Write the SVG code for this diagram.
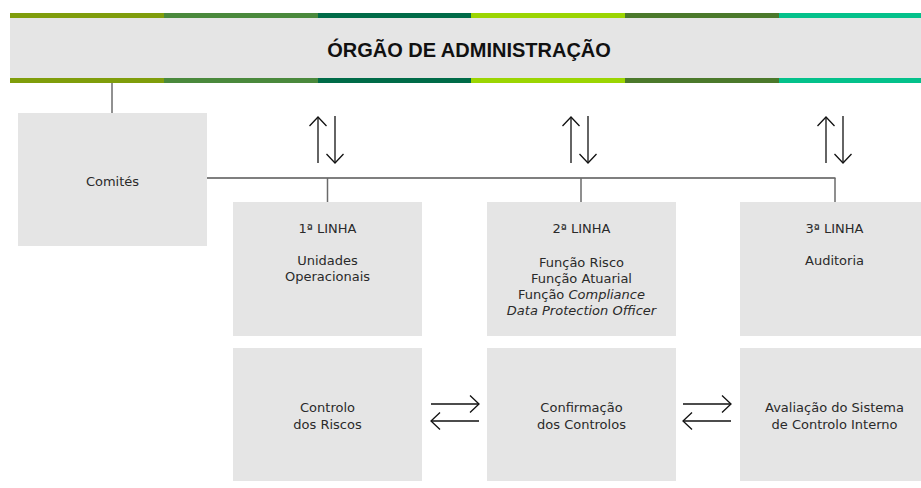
<svg xmlns="http://www.w3.org/2000/svg" width="921" height="488" viewBox="0 0 921 488">
  <defs>
    <style>
      .box { fill: #e5e5e5; }
      .txt { font-family: "DejaVu Sans", "Liberation Sans", sans-serif; font-size: 13px; fill: #2a2a2a; text-anchor: middle; }
      .it { font-style: italic; }
      .title { font-family: "Liberation Sans", Arial, sans-serif; font-size: 20px; font-weight: bold; fill: #111; text-anchor: middle; }
      .conn { stroke: #6a6a6a; stroke-width: 1.5; fill: none; }
      .arr { stroke: #111; stroke-width: 1.3; fill: none; marker-end: url(#head); }
    </style>
    <marker id="head" markerUnits="userSpaceOnUse" viewBox="-10 -10 12 20" refX="0" refY="0" markerWidth="12" markerHeight="20" orient="auto">
      <path d="M -9 -8.5 L 0 0 L -9 8.5" fill="none" stroke="#111" stroke-width="1.3"/>
    </marker>
  </defs>

  <g id="orgao-administracao">
    <rect x="10" y="18" width="911" height="60" class="box"/>
    <g id="strips">
      <rect x="10" y="13" width="154" height="5" fill="#7f9d0b"/>
      <rect x="164" y="13" width="154" height="5" fill="#4a893c"/>
      <rect x="318" y="13" width="153" height="5" fill="#006b48"/>
      <rect x="471" y="13" width="154" height="5" fill="#9bd502"/>
      <rect x="625" y="13" width="154" height="5" fill="#4b792b"/>
      <rect x="779" y="13" width="142" height="5" fill="#04c18b"/>
      <rect x="10" y="78" width="154" height="5" fill="#7f9d0b"/>
      <rect x="164" y="78" width="154" height="5" fill="#4a893c"/>
      <rect x="318" y="78" width="153" height="5" fill="#006b48"/>
      <rect x="471" y="78" width="154" height="5" fill="#9bd502"/>
      <rect x="625" y="78" width="154" height="5" fill="#4b792b"/>
      <rect x="779" y="78" width="142" height="5" fill="#04c18b"/>
    </g>
    <text x="469" y="57" class="title">ÓRGÃO DE ADMINISTRAÇÃO</text>
  </g>

  <g id="connectors">
    <line x1="112" y1="83" x2="112" y2="113" stroke="#222" stroke-width="1"/>
    <line x1="207" y1="178" x2="835.5" y2="178" stroke="#555" stroke-width="1.5"/>
    <line x1="327.5" y1="178" x2="327.5" y2="202" class="conn"/>
    <line x1="581" y1="178" x2="581" y2="202" class="conn"/>
    <line x1="835" y1="178" x2="835" y2="202" class="conn"/>

    <line x1="318" y1="163" x2="318" y2="117" class="arr"/>
    <line x1="335" y1="116" x2="335" y2="163" class="arr"/>
    <line x1="571" y1="163" x2="571" y2="117" class="arr"/>
    <line x1="588" y1="116" x2="588" y2="163" class="arr"/>
    <line x1="826" y1="163" x2="826" y2="117" class="arr"/>
    <line x1="843" y1="116" x2="843" y2="163" class="arr"/>

    <line x1="431" y1="404" x2="479" y2="404" class="arr"/>
    <line x1="479" y1="421" x2="431" y2="421" class="arr"/>
    <line x1="683" y1="404" x2="731" y2="404" class="arr"/>
    <line x1="731" y1="421" x2="683" y2="421" class="arr"/>
  </g>

  <g id="comites">
    <rect x="18" y="113" width="189" height="133" class="box"/>
    <text x="112.5" y="186" class="txt">Comités</text>
  </g>

  <g id="linha1">
    <rect x="233" y="202" width="189" height="134" class="box"/>
    <text x="327.5" y="233" class="txt">1ª LINHA</text>
    <text x="327.5" y="265" class="txt">Unidades</text>
    <text x="327.5" y="281" class="txt">Operacionais</text>
  </g>

  <g id="linha2">
    <rect x="487" y="202" width="189" height="134" class="box"/>
    <text x="581.5" y="233" class="txt">2ª LINHA</text>
    <text x="581.5" y="267" class="txt">Função Risco</text>
    <text x="581.5" y="283" class="txt">Função Atuarial</text>
    <text x="581.5" y="299" class="txt">Função <tspan class="it">Compliance</tspan></text>
    <text x="581.5" y="315" class="txt it">Data Protection Officer</text>
  </g>

  <g id="linha3">
    <rect x="740" y="202" width="189" height="134" class="box"/>
    <text x="834.5" y="233" class="txt">3ª LINHA</text>
    <text x="834.5" y="265" class="txt">Auditoria</text>
  </g>

  <g id="controlo-riscos">
    <rect x="233" y="348" width="189" height="133" class="box"/>
    <text x="327.5" y="412" class="txt">Controlo</text>
    <text x="327.5" y="429" class="txt">dos Riscos</text>
  </g>

  <g id="confirmacao-controlos">
    <rect x="487" y="348" width="189" height="133" class="box"/>
    <text x="581.5" y="412" class="txt">Confirmação</text>
    <text x="581.5" y="429" class="txt">dos Controlos</text>
  </g>

  <g id="avaliacao-sistema">
    <rect x="740" y="348" width="189" height="133" class="box"/>
    <text x="834.5" y="412" class="txt">Avaliação do Sistema</text>
    <text x="834.5" y="429" class="txt">de Controlo Interno</text>
  </g>
</svg>
